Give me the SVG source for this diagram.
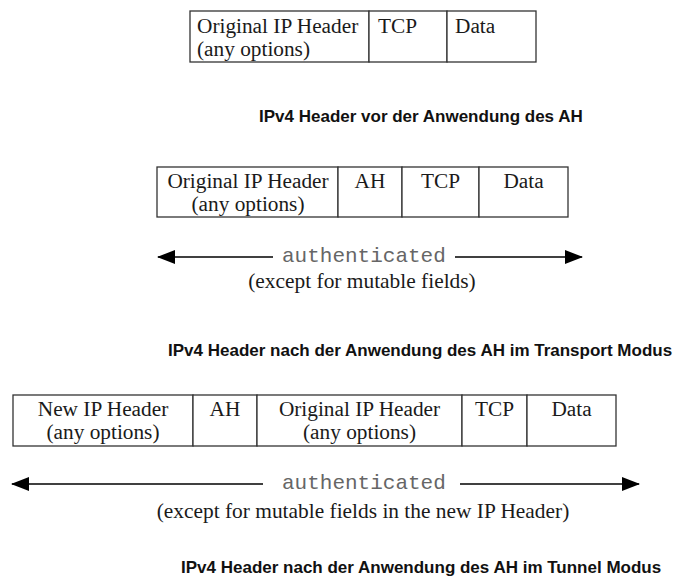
<svg xmlns="http://www.w3.org/2000/svg" width="675" height="579" viewBox="0 0 675 579">
  <style>
    .cell { fill: #ffffff; stroke: #333333; stroke-width: 1.3; }
    .lbl { font-family: "Liberation Serif", "Times New Roman", serif; font-size: 21.3px; fill: #1a1a1a; }
    .mid { text-anchor: middle; }
    .auth { font-family: "Liberation Mono", "Courier New", monospace; font-size: 21px; fill: #666666; }
    .note { font-family: "Liberation Serif", "Times New Roman", serif; font-size: 21.4px; fill: #1a1a1a; text-anchor: middle; }
    .title { font-family: "Liberation Sans", Arial, sans-serif; font-size: 17px; font-weight: bold; fill: #111111; }
    .arrow { stroke: #000000; stroke-width: 1.6; fill: none; }
  </style>
  <defs>
    <marker id="head" viewBox="0 0 18 14" refX="17" refY="7" markerWidth="18" markerHeight="14" markerUnits="userSpaceOnUse" orient="auto-start-reverse">
      <path d="M0,0 L18,7 L0,14 Z" fill="#000000"/>
    </marker>
  </defs>
  <rect width="675" height="579" fill="#ffffff"/>

  <!-- Packet before AH is applied -->
  <g id="packet-plain">
    <rect class="cell" x="190" y="11" width="179" height="51"/>
    <rect class="cell" x="369" y="11" width="78" height="51"/>
    <rect class="cell" x="447" y="11" width="89" height="51"/>
    <text class="lbl" x="197" y="33">Original IP Header</text>
    <text class="lbl" x="197" y="56">(any options)</text>
    <text class="lbl" x="378" y="33">TCP</text>
    <text class="lbl" x="455" y="33">Data</text>
  </g>
  <text id="title-plain" class="title" x="259" y="122">IPv4 Header vor der Anwendung des AH</text>

  <!-- Transport mode packet -->
  <g id="packet-transport">
    <rect class="cell" x="157" y="167" width="181" height="50"/>
    <rect class="cell" x="338" y="167" width="64" height="50"/>
    <rect class="cell" x="402" y="167" width="77" height="50"/>
    <rect class="cell" x="479" y="167" width="89" height="50"/>
    <text class="lbl mid" x="248" y="188">Original IP Header</text>
    <text class="lbl mid" x="248" y="211">(any options)</text>
    <text class="lbl mid" x="370" y="188">AH</text>
    <text class="lbl mid" x="440.5" y="188">TCP</text>
    <text class="lbl mid" x="523.5" y="188">Data</text>
  </g>
  <g id="scope-transport">
    <text class="auth" x="282" y="262">authenticated</text>
    <text class="note" x="362" y="288">(except for mutable fields)</text>
  </g>
  <text id="title-transport" class="title" x="168" y="356">IPv4 Header nach der Anwendung des AH im Transport Modus</text>

  <!-- Tunnel mode packet -->
  <g id="packet-tunnel">
    <rect class="cell" x="13" y="395" width="180" height="51"/>
    <rect class="cell" x="193" y="395" width="64" height="51"/>
    <rect class="cell" x="257" y="395" width="205" height="51"/>
    <rect class="cell" x="462" y="395" width="65" height="51"/>
    <rect class="cell" x="527" y="395" width="89" height="51"/>
    <text class="lbl mid" x="103" y="416">New IP Header</text>
    <text class="lbl mid" x="103" y="439">(any options)</text>
    <text class="lbl mid" x="225" y="416">AH</text>
    <text class="lbl mid" x="359.5" y="416">Original IP Header</text>
    <text class="lbl mid" x="359.5" y="439">(any options)</text>
    <text class="lbl mid" x="494.5" y="416">TCP</text>
    <text class="lbl mid" x="571.5" y="416">Data</text>
  </g>
  <g id="scope-tunnel">
    <text class="auth" x="282" y="489">authenticated</text>
    <text class="note" x="363" y="518">(except for mutable fields in the new IP Header)</text>
  </g>
  <text id="title-tunnel" class="title" x="181" y="573">IPv4 Header nach der Anwendung des AH im Tunnel Modus</text>

  <!-- Extent arrows for the authenticated range -->
  <g id="connectors">
    <line class="arrow" x1="273" y1="257" x2="158" y2="257" marker-end="url(#head)"/>
    <line class="arrow" x1="455" y1="257" x2="582" y2="257" marker-end="url(#head)"/>
    <line class="arrow" x1="263" y1="484" x2="12" y2="484" marker-end="url(#head)"/>
    <line class="arrow" x1="460" y1="484" x2="639" y2="484" marker-end="url(#head)"/>
  </g>
</svg>
